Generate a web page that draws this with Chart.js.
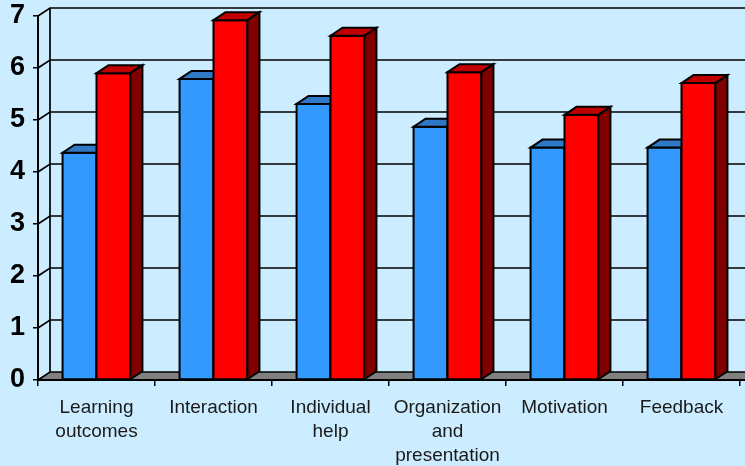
<!DOCTYPE html>
<html>
<head>
<meta charset="utf-8">
<script src="https://cdn.jsdelivr.net/npm/chart.js@4.4.1/dist/chart.umd.min.js"></script>
<style>
  html, body { margin: 0; padding: 0; background: #CCECFF; }
  #wrap { width: 745px; height: 466px; position: relative; }
</style>
</head>
<body>
<div id="wrap"><canvas id="c" width="745" height="466"></canvas></div>
<script>
const categories = [
  ["Learning", "outcomes"],
  ["Interaction"],
  ["Individual", "help"],
  ["Organization", "and", "presentation"],
  ["Motivation"],
  ["Feedback"]
];
const seriesBlue = [4.37, 5.79, 5.31, 4.87, 4.47, 4.47];
const seriesRed  = [5.9, 6.92, 6.62, 5.92, 5.1, 5.71];
const yTicks = [0, 1, 2, 3, 4, 5, 6, 7];

const DX = 12, DY = -8;
const BG = '#CCECFF';
const faceColors = [
  { front: '#3399FF', top: '#2E78C6', side: '#1F4F86' },
  { front: '#FF0000', top: '#C00000', side: '#800000' }
];

const threeD = {
  id: 'threeD',
  beforeDatasetsDraw(chart) {
    const ctx = chart.ctx;
    const a = chart.chartArea;
    const y = chart.scales.y;
    const W = chart.width + 20;
    ctx.save();
    ctx.lineCap = 'butt';
    const yf0 = y.getPixelForValue(0);
    ctx.beginPath();
    ctx.moveTo(a.left, yf0);
    ctx.lineTo(a.left + DX, yf0 + DY);
    ctx.lineTo(W, yf0 + DY);
    ctx.lineTo(W, yf0);
    ctx.closePath();
    ctx.fillStyle = '#808080';
    ctx.fill();
    ctx.strokeStyle = '#000';
    ctx.lineWidth = 1.7;
    yTicks.forEach(v => {
      const yf = y.getPixelForValue(v);
      ctx.beginPath();
      ctx.moveTo(a.left, yf);
      ctx.lineTo(a.left + DX, yf + DY);
      ctx.lineTo(W, yf + DY);
      ctx.stroke();
    });
    const yTop = y.getPixelForValue(7);
    ctx.beginPath();
    ctx.moveTo(a.left + DX, yTop + DY);
    ctx.lineTo(a.left + DX, yf0 + DY);
    ctx.stroke();
    ctx.lineWidth = 2;
    ctx.beginPath();
    ctx.moveTo(a.left, yTop);
    ctx.lineTo(a.left, yf0 + 1);
    ctx.stroke();
    ctx.beginPath();
    ctx.moveTo(a.left - 1, yf0);
    ctx.lineTo(W, yf0);
    ctx.stroke();
    ctx.restore();
  },
  afterDatasetsDraw(chart) {
    const ctx = chart.ctx;
    ctx.save();
    ctx.strokeStyle = '#000';
    ctx.lineWidth = 2;
    ctx.lineJoin = 'miter';
    const n = chart.data.labels.length;
    for (let i = 0; i < n; i++) {
      chart.data.datasets.forEach((ds, di) => {
        const el = chart.getDatasetMeta(di).data[i];
        const c = faceColors[di];
        const x0 = el.x - el.width / 2, x1 = el.x + el.width / 2;
        const yT = el.y, yB = el.base;
        ctx.beginPath();
        ctx.rect(x0, yT, x1 - x0, yB - yT);
        ctx.fillStyle = c.front; ctx.fill(); ctx.stroke();
        ctx.beginPath();
        ctx.moveTo(x0, yT);
        ctx.lineTo(x0 + DX, yT + DY);
        ctx.lineTo(x1 + DX, yT + DY);
        ctx.lineTo(x1, yT);
        ctx.closePath();
        ctx.fillStyle = c.top; ctx.fill(); ctx.stroke();
        ctx.beginPath();
        ctx.moveTo(x1, yT);
        ctx.lineTo(x1 + DX, yT + DY);
        ctx.lineTo(x1 + DX, yB + DY);
        ctx.lineTo(x1, yB);
        ctx.closePath();
        ctx.fillStyle = c.side; ctx.fill(); ctx.stroke();
      });
    }
    ctx.restore();
  }
};

const bgPlugin = {
  id: 'bg',
  beforeDraw(chart) {
    const ctx = chart.ctx;
    ctx.save();
    ctx.fillStyle = BG;
    ctx.fillRect(0, 0, chart.width, chart.height);
    ctx.restore();
  }
};

new Chart(document.getElementById('c'), {
  type: 'bar',
  data: {
    labels: categories,
    datasets: [
      { label: 'Blue', data: seriesBlue, backgroundColor: 'rgba(0,0,0,0)', borderWidth: 0 },
      { label: 'Red', data: seriesRed, backgroundColor: 'rgba(0,0,0,0)', borderWidth: 0 }
    ]
  },
  options: {
    responsive: false,
    animation: false,
    devicePixelRatio: 1,
    layout: { padding: { top: 16, right: 5, left: 0, bottom: 0 } },
    plugins: { legend: { display: false }, tooltip: { enabled: false } },
    datasets: { bar: { categoryPercentage: 0.58, barPercentage: 1.0 } },
    scales: {
      x: {
        grid: { display: true, drawOnChartArea: false, drawTicks: true, tickLength: 6, color: '#000', lineWidth: 1.5, offset: true },
        border: { display: false },
        ticks: {
          color: '#1a1a1a',
          font: { family: '"Liberation Sans", Arial, sans-serif', size: 19, lineHeight: 1.26 },
          padding: 10,
          maxRotation: 0,
          autoSkip: false
        },
        afterFit(scale) { scale.height = 86; }
      },
      y: {
        min: 0, max: 7,
        grid: { display: true, drawOnChartArea: false, drawTicks: true, tickLength: 5, color: '#000', lineWidth: 1.5 },
        border: { display: false },
        ticks: {
          stepSize: 1,
          color: '#000',
          font: { family: '"Liberation Sans", Arial, sans-serif', size: 27, weight: 'bold', lineHeight: 0.5 },
          padding: 8
        },
        afterFit(scale) { scale.width = 38; }
      }
    }
  },
  plugins: [bgPlugin, threeD]
});
</script>
</body>
</html>
